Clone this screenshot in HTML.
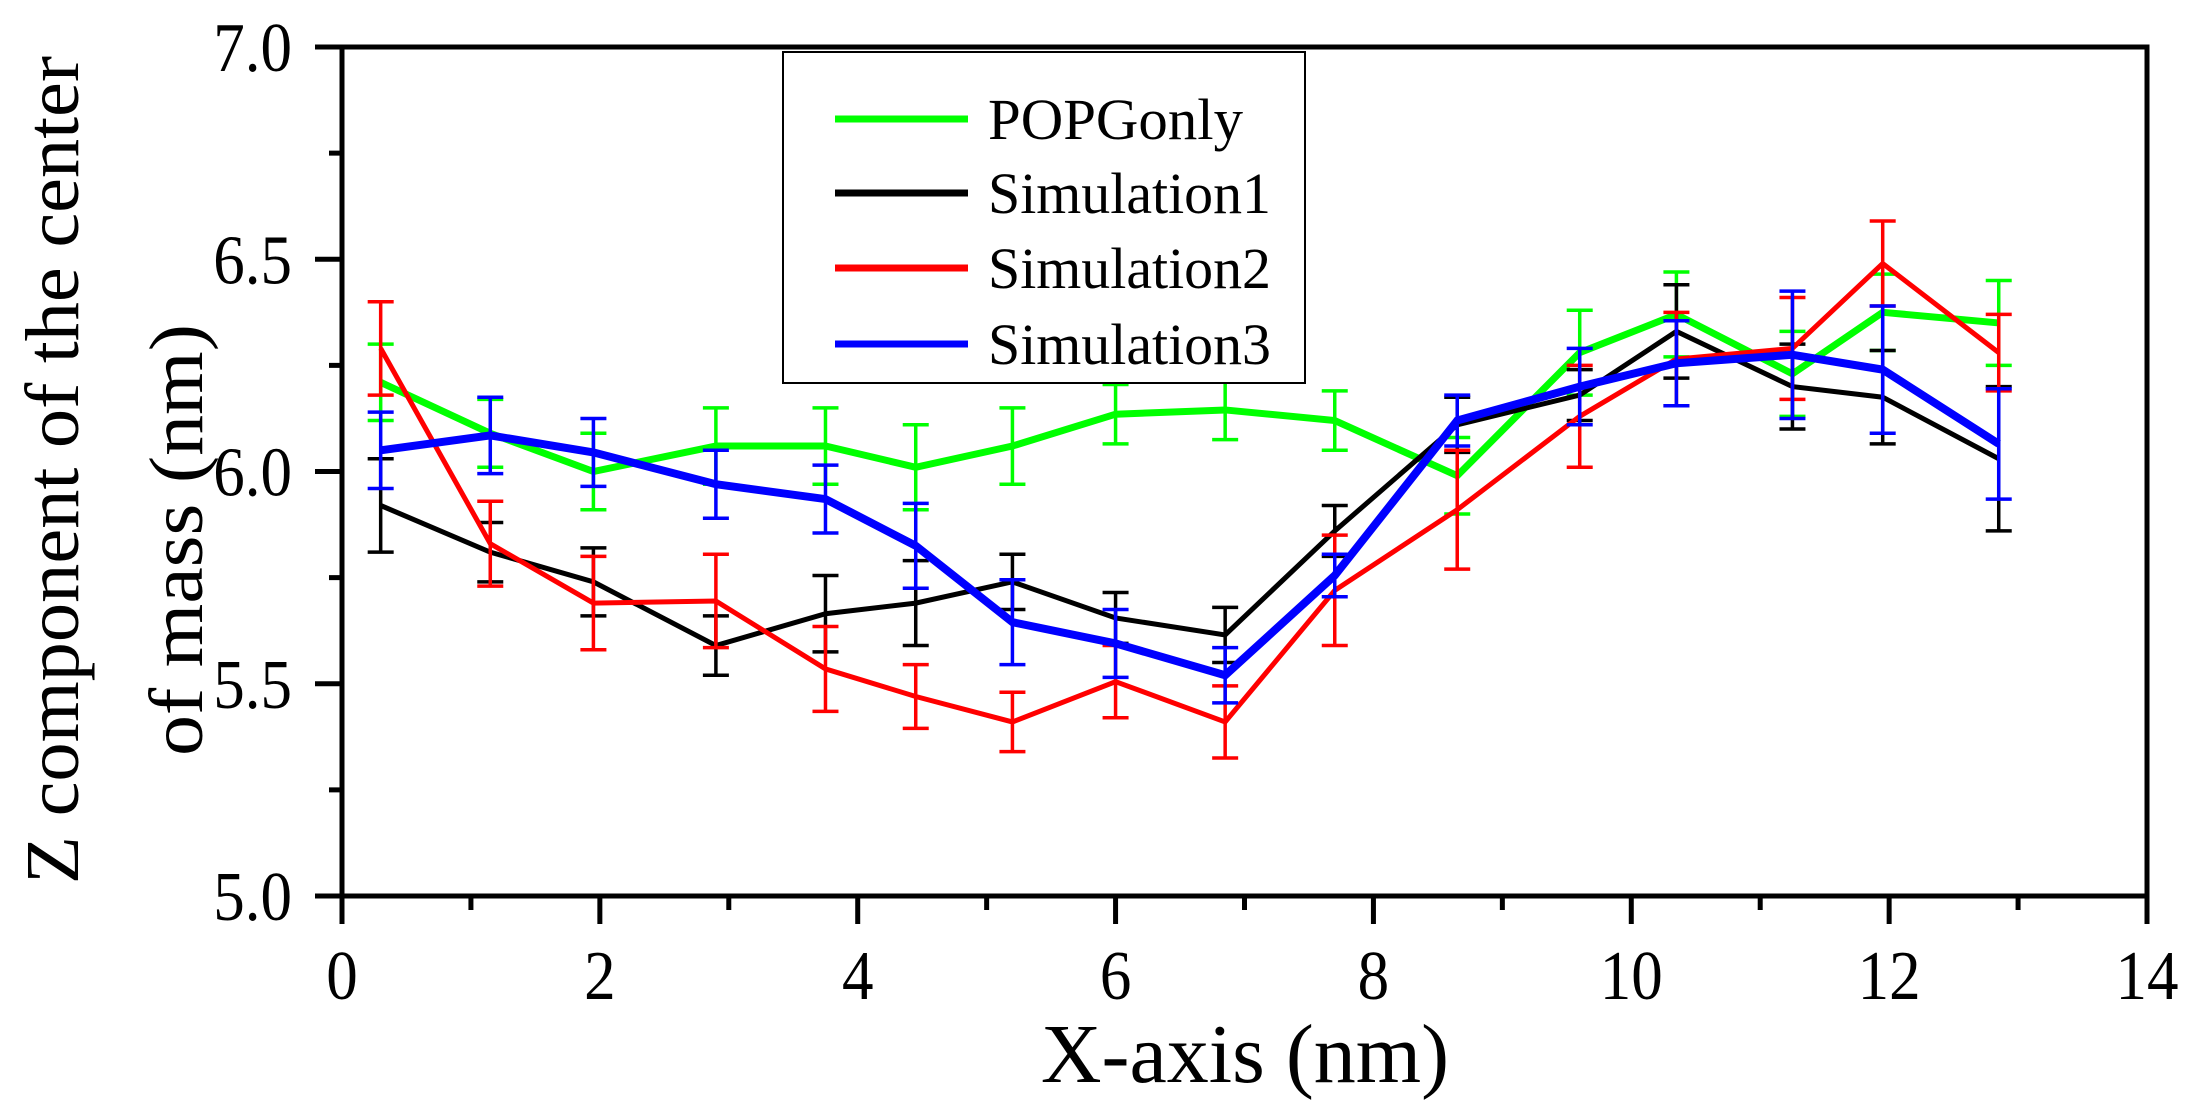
<!DOCTYPE html>
<html><head><meta charset="utf-8"><style>
html,body{margin:0;padding:0;background:#fff;}
svg{display:block;font-family:"Liberation Serif",serif;}
text{font-family:"Liberation Serif",serif;}
</style></head><body>
<svg id="chart" width="2204" height="1120" viewBox="0 0 2204 1120">
<g id="plot"></g>
</svg>
<script>
const xs=[0.3,1.15,1.95,2.9,3.75,4.45,5.2,6.0,6.85,7.7,8.65,9.6,10.35,11.25,11.95,12.85];
const seriesNames=["POPGonly","Simulation1","Simulation2","Simulation3"];
const seriesColors=["#00ff00","#000000","#ff0000","#0000ff"];
const popgY=[6.21,6.09,6.0,6.06,6.06,6.01,6.06,6.135,6.145,6.12,5.99,6.28,6.37,6.23,6.375,6.35];
const popgErr=[0.09,0.08,0.09,0.09,0.09,0.1,0.09,0.07,0.07,0.07,0.09,0.1,0.1,0.1,0.09,0.1];
const sim1Y=[5.92,5.81,5.74,5.59,5.665,5.69,5.74,5.655,5.615,5.86,6.11,6.18,6.33,6.2,6.175,6.03];
const sim1Err=[0.11,0.07,0.08,0.07,0.09,0.1,0.065,0.06,0.065,0.06,0.065,0.06,0.11,0.1,0.11,0.17];
const sim2Y=[6.29,5.83,5.69,5.695,5.535,5.47,5.41,5.505,5.41,5.72,5.91,6.13,6.265,6.29,6.49,6.28];
const sim2Err=[0.11,0.1,0.11,0.11,0.1,0.075,0.07,0.085,0.085,0.13,0.14,0.12,0.11,0.12,0.1,0.09];
const sim3Y=[6.05,6.085,6.045,5.97,5.935,5.825,5.645,5.595,5.52,5.755,6.12,6.2,6.255,6.275,6.24,6.065];
const sim3Err=[0.09,0.09,0.08,0.08,0.08,0.1,0.1,0.08,0.065,0.05,0.06,0.09,0.1,0.15,0.15,0.13];
const xTicks=[0,2,4,6,8,10,12,14];
const xTickLabels=["0","2","4","6","8","10","12","14"];
const yTicks=[5.0,5.5,6.0,6.5,7.0];
const yTickLabels=["5.0","5.5","6.0","6.5","7.0"];

const L=342,R=2147,T=47,B=896;
const X0=0,X1=14,Y0=5,Y1=7;
function sx(v){return L+(v-X0)/(X1-X0)*(R-L);}
function sy(v){return B-(v-Y0)/(Y1-Y0)*(B-T);}
const NS="http://www.w3.org/2000/svg";
const g=document.getElementById('plot');
function mk(tag,attrs,parent){const e=document.createElementNS(NS,tag);for(const k in attrs)e.setAttribute(k,attrs[k]);(parent||g).appendChild(e);return e;}

const ys=[popgY,sim1Y,sim2Y,sim3Y];
const errs=[popgErr,sim1Err,sim2Err,sim3Err];
const widths=[7,5,5,8];
for(let s=0;s<4;s++){
  const sg=mk('g',{});
  
  
  for(let i=0;i<xs.length;i++){
    const x=sx(xs[i]),yt=sy(ys[s][i]+errs[s][i]),yb=sy(ys[s][i]-errs[s][i]);
    const eb=mk('path',{d:`M${x},${yt}V${yb}M${x-13},${yt}H${x+13}M${x-13},${yb}H${x+13}`,stroke:seriesColors[s],'stroke-width':3.5,fill:'none'},sg);
    
    
  }
  const pts=xs.map((x,i)=>sx(x)+','+sy(ys[s][i])).join(' ');
  const pl=mk('polyline',{points:pts,stroke:seriesColors[s],'stroke-width':widths[s],fill:'none','stroke-linejoin':'miter'},sg);
  
  
}

const fr=mk('rect',{x:L,y:T,width:R-L,height:B-T,fill:'none',stroke:'#000','stroke-width':5});



for(let i=0;i<xTicks.length;i++){
  const x=sx(xTicks[i]);
  const t=mk('line',{x1:x,y1:B,x2:x,y2:B+28,stroke:'#000','stroke-width':5});
  
  
  if(i<xTicks.length-1){
    const xm=sx(xTicks[i]+1);
    const m=mk('line',{x1:xm,y1:B,x2:xm,y2:B+14,stroke:'#000','stroke-width':5});
    
    
  }
  const lb=mk('text',{x:0,y:0,'font-size':70,'text-anchor':'middle',fill:'#000',transform:`translate(${x},999) scale(0.9,1)`});
  lb.textContent=xTickLabels[i];
  
  
}
for(let i=0;i<yTicks.length;i++){
  const y=sy(yTicks[i]);
  const t=mk('line',{x1:L-27,y1:y,x2:L,y2:y,stroke:'#000','stroke-width':5});
  
  
  if(i<yTicks.length-1){
    const ym=sy(yTicks[i]+0.25);
    const m=mk('line',{x1:L-13,y1:ym,x2:L,y2:ym,stroke:'#000','stroke-width':5});
    
    
  }
  const lb=mk('text',{x:0,y:0,'font-size':70,'text-anchor':'end',fill:'#000',transform:`translate(292,${y+24}) scale(0.9,1)`});
  lb.textContent=yTickLabels[i];
  
  
}
const xt=mk('text',{x:1245,y:1082,'font-size':84,'text-anchor':'middle',fill:'#000'});
xt.setAttribute('xml:space','preserve');
xt.textContent='X-axis  (nm)';


const yt1=mk('text',{x:0,y:0,'font-size':76,'text-anchor':'middle',fill:'#000',transform:'translate(78,470) rotate(-90)',textLength:828,lengthAdjust:'spacingAndGlyphs'});
yt1.textContent='Z component of the center';


const yt2=mk('text',{x:0,y:0,'font-size':76,'text-anchor':'middle',fill:'#000',transform:'translate(202,540) rotate(-90)',textLength:432,lengthAdjust:'spacingAndGlyphs'});
yt2.textContent='of mass (nm)';



const lg=mk('g',{});


mk('rect',{x:783,y:52,width:522,height:331,fill:'#fff',stroke:'#000','stroke-width':2},lg);
const rowsY=[119,193,268,344];
for(let s=0;s<4;s++){
  const e=mk('g',{},lg);
  
  
  mk('line',{x1:835,y1:rowsY[s],x2:968,y2:rowsY[s],stroke:seriesColors[s],'stroke-width':7},e);
  const t=mk('text',{x:988,y:rowsY[s]+20,'font-size':58,fill:'#000',textLength:(s===0?255:283),lengthAdjust:'spacingAndGlyphs'},e);
  t.textContent=seriesNames[s];
}
</script>
</body></html>
